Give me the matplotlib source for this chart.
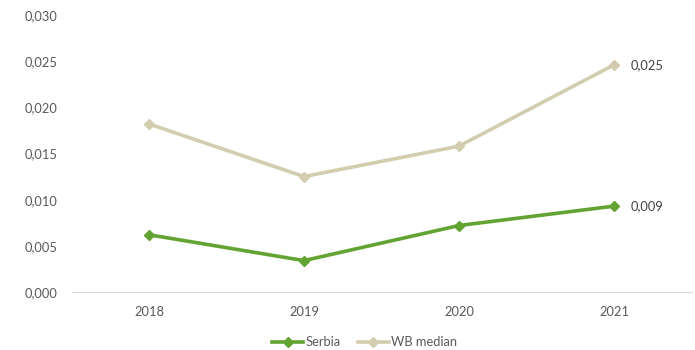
import matplotlib
matplotlib.use("Agg")
import matplotlib.pyplot as plt
from matplotlib.ticker import FuncFormatter

years = ["2018", "2019", "2020", "2021"]
serbia = [0.0062, 0.0034, 0.0072, 0.0093]
wb_median = [0.0182, 0.0125, 0.0158, 0.0246]
y_ticks = [0.000, 0.005, 0.010, 0.015, 0.020, 0.025, 0.030]

plt.rcParams["font.family"] = ["Lato", "DejaVu Sans"]
text_color = "#595959"

fig = plt.figure(figsize=(6.95, 3.5), dpi=100)
ax = fig.add_axes([71.5 / 695, (350 - 292) / 350, 620 / 695, 277 / 350])

x = list(range(len(years)))
ax.plot(x, serbia, color="#62A332", lw=2.6, marker="D", ms=5.5, label="Serbia", zorder=3)
ax.plot(x, wb_median, color="#D3CDAF", lw=2.6, marker="D", ms=5.5, label="WB median", zorder=2)

ax.set_xlim(-0.5, len(years) - 0.5)
ax.set_ylim(0, 0.030)
ax.set_xticks(x)
ax.set_xticklabels(years)
ax.set_yticks(y_ticks)
ax.yaxis.set_major_formatter(FuncFormatter(lambda v, p: f"{v:.3f}".replace(".", ",")))

for s in ["top", "right", "left"]:
    ax.spines[s].set_visible(False)
ax.spines["bottom"].set_color("#D9D9D9")
ax.tick_params(axis="both", length=0, labelsize=9.3, colors=text_color)
ax.tick_params(axis="x", pad=10)
ax.tick_params(axis="y", pad=10)

for series in (serbia, wb_median):
    ax.annotate(f"{series[-1]:.3f}".replace(".", ","), (x[-1], series[-1]),
                xytext=(12, 0), textcoords="offset points", va="center", ha="left",
                fontsize=9.3, color="#404040")

leg = fig.legend(loc="center", bbox_to_anchor=(0.525, 0.022), ncol=2, frameon=False,
                 fontsize=9.3, handlelength=2.4, columnspacing=1.3, handletextpad=0.2)
for t in leg.get_texts():
    t.set_color(text_color)

fig.savefig("out.png", dpi=100)
